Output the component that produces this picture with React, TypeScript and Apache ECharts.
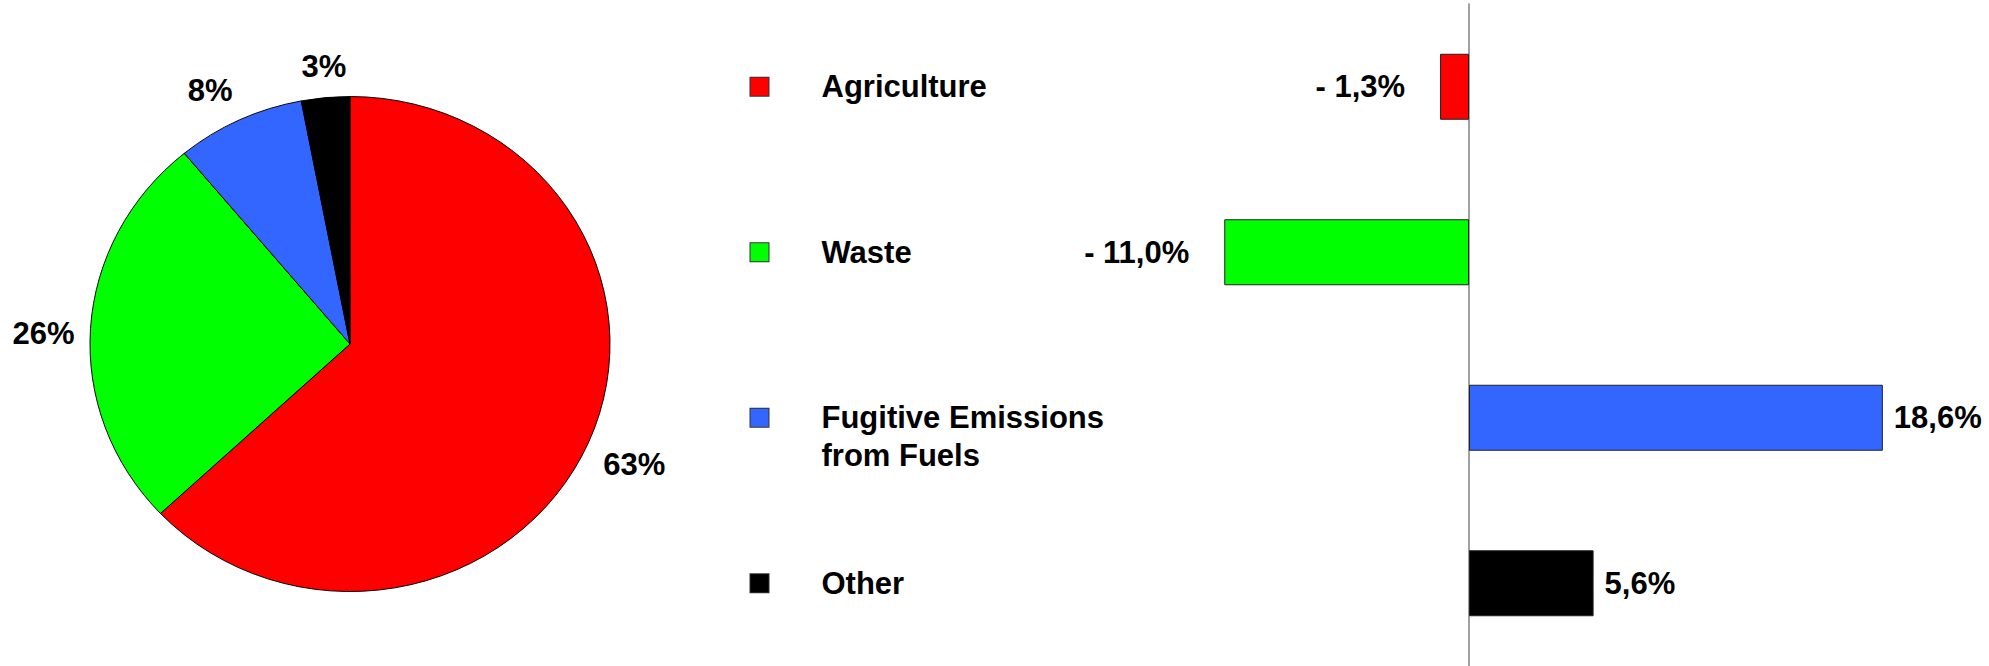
import React, { useEffect, useRef } from 'react';
import * as echarts from 'echarts';

// ---- data ----
const categories = ['Agriculture', 'Waste', 'Fugitive Emissions\nfrom Fuels', 'Other'];
const sliceColors = ['#FF0000', '#00FF00', '#3366FF', '#000000'];
const pieShares = [63, 26, 8, 3];
const changeValues = [-1.3, -11.0, 18.6, 5.6];

const FONT = "'Liberation Sans', Arial, Helvetica, sans-serif";

function fmtChange(v: number): string {
  const s = Math.abs(v).toFixed(1).replace('.', ',') + '%';
  return v < 0 ? '- ' + s : s;
}

export default function App() {
  const ref = useRef<HTMLDivElement>(null);

  useEffect(() => {
    const chart = echarts.init(ref.current!, null, { renderer: 'svg' });
    const total = pieShares.reduce((a, b) => a + b, 0);
    const CX = 350, CY = 344, RX = 260, RY = 247.5;

    const rich: any = {
      e: { height: 38, lineHeight: 38 },
      g: { width: 53, height: 10, lineHeight: 38 },
      ind: { width: 71, height: 10, lineHeight: 38 },
      t: { fontSize: 31, fontWeight: 'bold', fontFamily: FONT, color: '#000', lineHeight: 38 },
    };
    sliceColors.forEach((c, i) => {
      rich['sq' + i] = {
        width: 18, height: 18, backgroundColor: c,
        borderColor: '#333', borderWidth: 1, lineHeight: 38,
      };
    });

    const option: any = {
      animation: false,
      backgroundColor: '#ffffff',
      grid: { left: 1024, right: 75, top: 4, bottom: -3, containLabel: false },
      xAxis: {
        type: 'value', min: -20, max: 20,
        axisLine: { show: false }, axisTick: { show: false },
        axisLabel: { show: false }, splitLine: { show: false },
      },
      yAxis: {
        type: 'category', data: categories, inverse: true,
        axisLine: { show: true, onZero: true, lineStyle: { color: '#808080', width: 1.5 } },
        axisTick: { show: false },
        splitLine: { show: false },
        axisLabel: {
          interval: 0, margin: 273.5, align: 'left',
          formatter: (val: string, idx: number) => {
            const lines = val.split('\n');
            if (lines.length === 1) return `{sq${idx}|}{g|}{t|${val}}`;
            return `{e|}\n{sq${idx}|}{g|}{t|${lines[0]}}\n{ind|}{t|${lines[1]}}`;
          },
          rich,
        },
      },
      series: [
        {
          type: 'bar',
          barWidth: 66,
          itemStyle: { borderColor: '#222', borderWidth: 1 },
          label: {
            show: true,
            formatter: (p: any) => fmtChange(p.value),
            fontSize: 31, fontWeight: 'bold', fontFamily: FONT, color: '#000',
          },
          data: changeValues.map((v, i) => ({
            value: v,
            itemStyle: { color: sliceColors[i] },
            label: { position: v < 0 ? 'left' : 'right', distance: v < 0 ? 35 : 11 },
          })),
        },
        {
          type: 'custom',
          coordinateSystem: 'none',
          silent: true,
          dimensions: ['share'],
          data: pieShares.map((v) => [v]),
          renderItem: (params: any, api: any) => {
            const i = params.dataIndex;
            const before = pieShares.slice(0, i).reduce((a, b) => a + b, 0);
            const v = api.value(0);
            const a0 = (before / total) * Math.PI * 2;
            const a1 = ((before + v) / total) * Math.PI * 2;
            const mid = (a0 + a1) / 2;
            const nx = Math.sin(mid);
            const ny = -Math.cos(mid);
            const ex = CX + RX * nx;
            const ey = CY + RY * ny;
            const gap = 16;
            const px = ex + nx * gap;
            const py = ey + ny * gap;
            const align = nx > 0.3 ? 'left' : nx < -0.3 ? 'right' : 'center';
            const valign = ny > 0.3 ? 'top' : ny < -0.3 ? 'bottom' : 'middle';
            return {
              type: 'group',
              children: [
                {
                  type: 'sector',
                  shape: {
                    cx: CX, cy: CY, r0: 0, r: RX,
                    startAngle: -Math.PI / 2 + a0,
                    endAngle: -Math.PI / 2 + a1,
                    clockwise: true,
                  },
                  originX: CX, originY: CY, scaleX: 1, scaleY: RY / RX,
                  style: { fill: sliceColors[i], stroke: '#000', lineWidth: 1 },
                },
                {
                  type: 'text',
                  x: px, y: py + (valign === 'middle' ? 6 : 0),
                  style: {
                    text: Math.round((v / total) * 100) + '%',
                    fill: '#000', fontSize: 31, fontWeight: 'bold', fontFamily: FONT,
                    align, verticalAlign: valign,
                  },
                },
              ],
            };
          },
        },
      ],
    };

    chart.setOption(option);
    return () => chart.dispose();
  }, []);

  return (
    <div
      ref={ref}
      style={{ position: 'fixed', left: 0, top: 0, width: 1989, height: 666, background: '#fff' }}
    />
  );
}
